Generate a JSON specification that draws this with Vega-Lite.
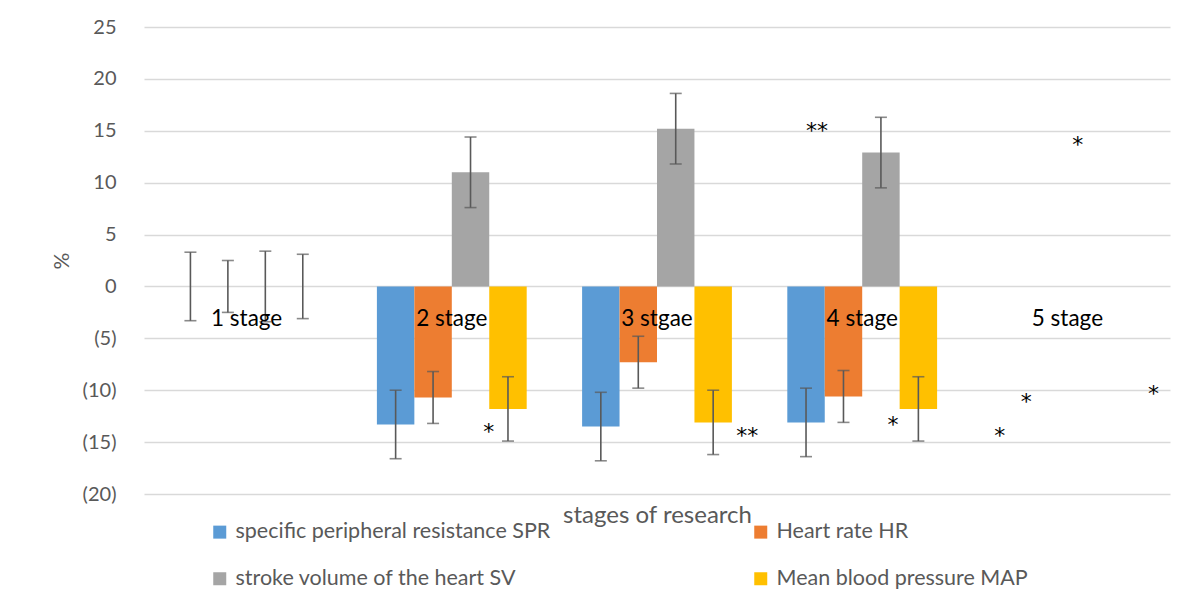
{
  "$schema": "https://vega.github.io/schema/vega-lite/v6.json",
  "width": 1026,
  "height": 467,
  "autosize": {"type": "none"},
  "padding": {"left": 144, "top": 27, "right": 32, "bottom": 100},
  "background": "white",
  "config": {
    "view": {"stroke": null},
    "font": "Lato",
    "axisY": {
      "grid": true,
      "gridColor": "#d9d9d9",
      "gridWidth": 1.3,
      "domain": false,
      "ticks": false,
      "tickSize": 0,
      "labelFontSize": 20,
      "labelColor": "#595959",
      "labelPadding": 28,
      "titleFontSize": 21,
      "titleColor": "#595959",
      "titleFontWeight": "normal",
      "titlePadding": 10,
      "values": [-20, -15, -10, -5, 0, 5, 10, 15, 20, 25],
      "labelExpr": "datum.value < 0 ? '(' + (-datum.value) + ')' : datum.value"
    },
    "axisX": {
      "labels": false,
      "ticks": false,
      "tickSize": 0,
      "domain": false,
      "grid": false,
      "titleFontSize": 24,
      "titleColor": "#595959",
      "titleFontWeight": "normal",
      "titlePadding": 9
    }
  },
  "datasets": {
    "bars": [
      {"stage": "1", "series": "specific peripheral resistance SPR", "value": 0, "lo": -3.3, "hi": 3.3},
      {"stage": "1", "series": "Heart rate HR", "value": 0, "lo": -2.5, "hi": 2.5},
      {"stage": "1", "series": "stroke volume of the heart SV", "value": 0, "lo": -3.4, "hi": 3.4},
      {"stage": "1", "series": "Mean blood pressure MAP", "value": 0, "lo": -3.1, "hi": 3.1},
      {"stage": "2", "series": "specific peripheral resistance SPR", "value": -13.3, "lo": -16.6, "hi": -10.0},
      {"stage": "2", "series": "Heart rate HR", "value": -10.7, "lo": -13.2, "hi": -8.2},
      {"stage": "2", "series": "stroke volume of the heart SV", "value": 11.0, "lo": 7.6, "hi": 14.4},
      {"stage": "2", "series": "Mean blood pressure MAP", "value": -11.8, "lo": -14.9, "hi": -8.7},
      {"stage": "3", "series": "specific peripheral resistance SPR", "value": -13.5, "lo": -16.8, "hi": -10.2},
      {"stage": "3", "series": "Heart rate HR", "value": -7.3, "lo": -9.8, "hi": -4.8},
      {"stage": "3", "series": "stroke volume of the heart SV", "value": 15.2, "lo": 11.8, "hi": 18.6},
      {"stage": "3", "series": "Mean blood pressure MAP", "value": -13.1, "lo": -16.2, "hi": -10.0},
      {"stage": "4", "series": "specific peripheral resistance SPR", "value": -13.1, "lo": -16.4, "hi": -9.8},
      {"stage": "4", "series": "Heart rate HR", "value": -10.6, "lo": -13.1, "hi": -8.1},
      {"stage": "4", "series": "stroke volume of the heart SV", "value": 12.9, "lo": 9.5, "hi": 16.3},
      {"stage": "4", "series": "Mean blood pressure MAP", "value": -11.8, "lo": -14.9, "hi": -8.7}
    ],
    "notes": [
      {"kind": "label", "pos": 1, "y": -3.1, "text": "1 stage"},
      {"kind": "label", "pos": 2, "y": -3.1, "text": "2 stage"},
      {"kind": "label", "pos": 3, "y": -3.1, "text": "3 stgae"},
      {"kind": "label", "pos": 4, "y": -3.1, "text": "4 stage"},
      {"kind": "label", "pos": 5, "y": -3.1, "text": "5 stage"},
      {"kind": "star", "pos": 2.18, "y": -13.7, "text": "*"},
      {"kind": "star", "pos": 3.44, "y": -14.1, "text": "**"},
      {"kind": "star", "pos": 3.78, "y": 15.3, "text": "**"},
      {"kind": "star", "pos": 5.05, "y": 13.9, "text": "*"},
      {"kind": "star", "pos": 4.15, "y": -13.1, "text": "*"},
      {"kind": "star", "pos": 4.67, "y": -14.1, "text": "*"},
      {"kind": "star", "pos": 4.80, "y": -10.8, "text": "*"},
      {"kind": "star", "pos": 5.42, "y": -10.1, "text": "*"}
    ]
  },
  "layer": [
    {
      "data": {"name": "bars"},
      "encoding": {
        "x": {
          "field": "stage",
          "type": "nominal",
          "title": "stages of research",
          "scale": {"domain": ["1", "2", "3", "4", "5"], "paddingInner": 0.27, "paddingOuter": 0.135}
        },
        "xOffset": {
          "field": "series",
          "type": "nominal",
          "scale": {
            "domain": ["specific peripheral resistance SPR", "Heart rate HR", "stroke volume of the heart SV", "Mean blood pressure MAP"],
            "paddingInner": 0,
            "paddingOuter": 0
          }
        }
      },
      "layer": [
        {
          "mark": {"type": "bar"},
          "encoding": {
            "y": {"field": "value", "type": "quantitative", "title": "%", "scale": {"domain": [-20, 25], "nice": false, "zero": false}},
            "color": {
              "field": "series",
              "type": "nominal",
              "scale": {
                "domain": ["specific peripheral resistance SPR", "Heart rate HR", "stroke volume of the heart SV", "Mean blood pressure MAP"],
                "range": ["#5B9BD5", "#ED7D31", "#A5A5A5", "#FFC000"]
              },
              "legend": {
                "orient": "none",
                "legendX": 65,
                "legendY": 494,
                "direction": "horizontal",
                "columns": 2,
                "columnPadding": 199,
                "rowPadding": 24,
                "title": null,
                "symbolType": "square",
                "symbolSize": 169,
                "symbolStrokeWidth": 0,
                "labelFontSize": 21.5,
                "labelColor": "#595959",
                "labelOffset": 5,
                "labelLimit": 500
              }
            }
          }
        },
        {
          "mark": {"type": "rule", "color": "#595959", "strokeWidth": 1.6},
          "encoding": {
            "y": {"field": "lo", "type": "quantitative", "title": "%"},
            "y2": {"field": "hi"}
          }
        },
        {
          "mark": {"type": "tick", "color": "#595959", "thickness": 1.6, "size": 12, "orient": "horizontal"},
          "encoding": {
            "y": {"field": "lo", "type": "quantitative", "title": "%"}
          }
        },
        {
          "mark": {"type": "tick", "color": "#595959", "thickness": 1.6, "size": 12, "orient": "horizontal"},
          "encoding": {
            "y": {"field": "hi", "type": "quantitative", "title": "%"}
          }
        }
      ]
    },
    {
      "data": {"name": "notes"},
      "encoding": {
        "x": {"field": "pos", "type": "quantitative", "scale": {"domain": [0.5, 5.5], "nice": false, "zero": false}, "axis": null},
        "y": {"field": "y", "type": "quantitative", "title": "%"},
        "text": {"field": "text"}
      },
      "layer": [
        {
          "transform": [{"filter": "datum.kind == 'label'"}],
          "mark": {"type": "text", "fontSize": 22.5, "color": "#000000", "baseline": "middle", "align": "center"}
        },
        {
          "transform": [{"filter": "datum.kind == 'star'"}],
          "mark": {"type": "text", "font": "DejaVu Sans", "fontSize": 22, "color": "#000000", "baseline": "middle", "align": "center", "dy": 3}
        }
      ]
    }
  ],
  "resolve": {"scale": {"x": "independent"}}
}
